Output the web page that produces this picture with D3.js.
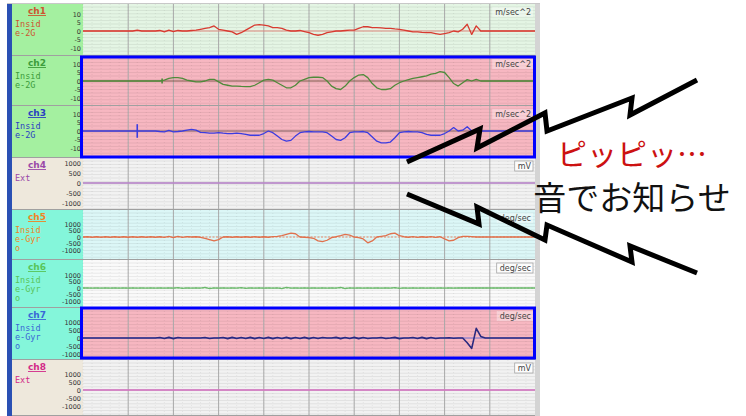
<!DOCTYPE html>
<html>
<head>
<meta charset="utf-8">
<script src="https://cdn.jsdelivr.net/npm/d3@7"></script>
<style>body{margin:0;background:#fff;overflow:hidden}</style>
</head>
<body>
<svg class="chart" width="746" height="416"></svg>
<script>
var names = ["ch1","ch2","ch3","ch4","ch5","ch6","ch7","ch8"];
var desc = [["Insid","e-2G"],["Insid","e-2G"],["Insid","e-2G"],["Ext"],
            ["Insid","e-Gyr","o"],["Insid","e-Gyr","o"],["Insid","e-Gyr","o"],["Ext"]];
var units = ["m/sec^2","m/sec^2","m/sec^2","mV","deg/sec","deg/sec","deg/sec","mV"];
var accTicks = [10,5,0,-5,-10];
var voltTicks = [1000,500,0,-500,-1000];
var gyroTicks = [1000,500,0,-500,-1000];

// samples at t = 0..100 (10 screen divisions)
var ch1 = [0,0,0,0,0,0,0,0,0,0,
  0,0,0.5,0,0,0,0,0.3,-0.5,0.5,
  -0.3,0.3,0,0,0.3,0.5,1,1.5,2,3,
  1,0.5,0,-0.5,-2,-1,0.5,2,3.5,3.8,
  3.5,3,2,2,1.5,0.5,0,0,0.3,-0.3,
  -1,-2,-2.5,-2,-1,-0.5,0,0,0.3,0.5,
  0.5,1.5,2.5,2.5,2,2,1.8,1.5,1.5,1.2,
  1,0.5,0,-0.5,-0.5,-0.8,-1,-1,-1.5,-2,
  -1.5,-1,0,-0.5,1,4,-2,3,0,0,
  0,0,0,0,0,0,0,0,0,0,0];
var ch2 = [0,0,0,0,0,0,0,0,0,0,
  0,0,0,0,0,0,0,0,0.5,1.5,
  2,2,1.5,0.5,0,-0.5,-0.5,0,1,1,
  -0.5,-2,-2.5,-3,-3,-3.2,-3.3,-3.3,-2.5,-1,
  0.5,1,0.5,-1,-2.5,-4,-4,-2.5,0,1,
  2,2.2,2.2,2,0,-3,-4.5,-5,-3,0,
  2,3.5,3.8,2,-1.5,-4,-5,-5,-4.5,-2.5,
  -1,0,0.8,1.5,2,2.5,3,4,4.5,5.5,
  5,2,-1.5,-3,-1,0.8,0,1,0,0,
  0,0,0,0,0,0,0,0,0,0,0];
var ch3 = [0,0,0,0,0,0,0,0,0,0,
  0,0,0,0,0,0,0,-0.3,-0.5,0.3,
  -0.5,-0.3,0,0.5,1,0.5,-0.8,-1,-1.3,-1.3,
  -1,-1.3,-1.5,-1.5,-1.3,-1.5,-2,-2.5,-2.5,-2.5,
  -1.5,0,-1,-3,-5,-6,-5.5,-3,-1,-0.5,
  -0.3,-0.5,-0.5,-0.5,-1,-3,-5,-5.5,-4,-1,
  -0.5,-0.5,-0.3,-1,-3.5,-6,-7,-7,-6.5,-4,
  -1,-0.5,-0.3,-0.5,-0.5,-1,-2,-2.5,-2.5,-2.5,
  -1.5,0,2,0,0.5,2.5,0,0.3,0,0,
  0,0,0,0,0,0,0,0,0,0,0];
var ch4 = [0,0];
var ch5 = [0,20,-20,20,-20,20,-20,20,-20,20,
  -20,20,-20,20,-20,20,-20,20,-30,50,
  -40,50,-30,30,0,20,-20,-100,-200,-300,
  -200,0,20,-20,20,-20,20,-20,20,-20,
  20,-20,30,50,100,200,300,250,0,-20,
  -50,-100,-300,-350,-250,-50,20,100,200,150,
  0,-50,-150,-450,-300,0,50,100,250,300,
  100,20,-20,30,-30,20,-20,30,-30,20,
  -150,-300,-250,-50,50,50,30,0,0,0,
  0,0,0,0,0,0,0,0,0,0,0];
var ch6 = [0,15,-15,15,-15,15,-15,15,-15,15,
  -15,15,-15,15,-15,15,-15,15,-15,15,
  -15,30,-30,15,-15,15,-15,40,-40,15,
  -15,15,-15,15,-15,30,-30,15,-15,15,
  -15,15,-15,15,-40,40,-15,15,-15,15,
  -15,15,-15,15,-15,15,-15,50,-50,15,
  -15,15,-15,15,-15,15,-15,15,-15,30,
  -30,15,-15,15,-15,15,-15,15,-15,15,
  -15,15,-15,15,0,0,0,0,0,0,
  0,0,0,0,0,0,0,0,0,0,0];
var ch7 = [0,0,0,0,0,0,0,0,0,0,
  0,0,0,0,0,0,0,30,-30,40,
  -40,30,0,0,0,0,0,30,-30,0,
  0,30,-40,40,-30,30,-30,40,-40,30,
  -30,40,-40,30,-30,40,-40,30,-30,40,
  -40,30,-30,30,0,0,40,-40,30,-30,
  40,-40,30,-30,0,0,30,-30,0,40,
  -40,0,0,30,-30,40,-40,30,-30,0,
  0,20,-20,0,0,-300,-650,600,100,0,
  0,0,0,0,0,0,0,0,0,0,0];
var ch8 = [0,0];
// [channel, t, half height]
var spikes = [[1,17.5,1.5],[2,12,4]];

var series = [ch1,ch2,ch3,ch4,ch5,ch6,ch7,ch8];
var tickSets = [accTicks,accTicks,accTicks,voltTicks,gyroTicks,gyroTicks,gyroTicks,voltTicks];
var maxVal = [10,10,10,1000,1000,1000,1000,1000];

// layout
var chTop = [4,56,106,158,210,260,308,360];
var zeroOff = [27,25,25,25,27,28,30,30];
var halfSpan = [17,17,17,20,13,13,16,16];
var panelBg = ["#a4f0a0","#a4f0a0","#a4f0a0","#eee8dc","#84f6da","#84f6da","#84f6da","#eee8dc"];
var plotBg = ["#e4f5e4","#f7b7c1","#f7b7c1","#f2f2f2","#dcf7f7","#fafafa","#f7b7c1","#f2f2f2"];
var labelColor = ["#cc5530","#3c9c3c","#2a40c0","#9a48a8","#f08424","#58c458","#3a66d6","#d22a88"];
var lineColor = ["#d83a30","#4f8a3a","#3c3ce0","#b88ac8","#e0704c","#6cb86c","#2a2a80","#d27ac0"];
var zeroColor = ["#e08a80","#7a5a4a","#7a5a5a","#b88ac8","#e88a6a","#8ccc8c","#7474d4","#d27ac0"];

var svg = d3.select(".chart");
var x = d3.scaleLinear().domain([0,100]).range([83,535]);
var plotL = 83, plotR = 535;

function bottomOf(i) { return i < 7 ? chTop[i+1] : 416; }

// left strip & frame
svg.append("rect").attr("x",7).attr("y",4).attr("width",5).attr("height",412).attr("fill","#2a50b4");
svg.append("rect").attr("x",7).attr("y",3).attr("width",533).attr("height",1).attr("fill","#c8c8c8");
svg.append("rect").attr("x",535).attr("y",4).attr("width",5).attr("height",412).attr("fill","#d4d4d4");

names.forEach(function(nm, i) {
  var top = chTop[i], bot = bottomOf(i);
  var z = top + zeroOff[i];
  var y = d3.scaleLinear().domain([-maxVal[i], maxVal[i]]).range([z + halfSpan[i], z - halfSpan[i]]);
  var g = svg.append("g");

  g.append("rect").attr("x",12).attr("y",top).attr("width",71).attr("height",bot-top).attr("fill",panelBg[i]);
  g.append("rect").attr("x",plotL).attr("y",top).attr("width",plotR-plotL).attr("height",bot-top).attr("fill",plotBg[i]);

  // fine horizontal grid
  g.selectAll("line.h").data(d3.range(top+3, bot-1, 3.4)).enter().append("line")
    .attr("x1",plotL).attr("x2",plotR).attr("y1",function(d){return d;}).attr("y2",function(d){return d;})
    .style("stroke","#000").style("stroke-opacity",0.07).style("stroke-width",1);
  // minor verticals
  g.selectAll("line.mv").data(d3.range(0,100,2)).enter().append("line")
    .attr("x1",function(d){return x(d);}).attr("x2",function(d){return x(d);})
    .attr("y1",top).attr("y2",bot)
    .style("stroke","#000").style("stroke-opacity",0.06).style("stroke-dasharray","1,2");
  // major verticals
  g.selectAll("line.v").data(d3.range(10,100,10)).enter().append("line")
    .attr("x1",function(d){return x(d);}).attr("x2",function(d){return x(d);})
    .attr("y1",top).attr("y2",bot)
    .style("stroke","#a8a8a8").style("stroke-width",1);

  // separator
  g.append("line").attr("x1",12).attr("x2",plotR).attr("y1",bot-0.5).attr("y2",bot-0.5)
    .style("stroke","#a0a0a0").style("stroke-width",1);

  // zero line
  g.append("line").attr("x1",plotL).attr("x2",plotR).attr("y1",y(0)).attr("y2",y(0))
    .style("stroke",zeroColor[i]).style("stroke-width",1)
    .style("stroke-dasharray", (i==4||i==5) ? "2,1.5" : null);

  // trace
  var vals = series[i];
  var line = d3.line()
    .x(function(d,k){ return x(k*100/(vals.length-1)); })
    .y(function(d){ return y(d); });
  g.append("path").datum(vals).attr("d",line)
    .style("fill","none").style("stroke",lineColor[i])
    .style("stroke-width", i==6 ? 1.6 : 1.3).style("stroke-linejoin","round");

  // y tick labels
  g.selectAll("text.tk").data(tickSets[i]).enter().append("text")
    .attr("x",81).attr("y",function(d){return y(d*maxVal[i]/Math.max.apply(null,tickSets[i])) + 2.5;})
    .attr("text-anchor","end")
    .style("font-family","DejaVu Sans").style("font-size","6.5px").style("fill","#333")
    .text(function(d){ return d; });

  // channel name
  g.append("text").attr("x",37).attr("y",top+10).attr("text-anchor","middle")
    .style("font-family","DejaVu Sans").style("font-weight","bold").style("font-size","9px")
    .style("text-decoration","underline").style("fill",labelColor[i]).text(nm);
  g.selectAll("text.ds").data(desc[i]).enter().append("text")
    .attr("x",15).attr("y",function(d,k){ return top + 23 + k*9; })
    .style("font-family","DejaVu Sans Mono").style("font-size","8.5px").style("fill",labelColor[i])
    .text(function(d){ return d; });

  // unit
  var ut = g.append("text").attr("x",531).attr("y",top+11).attr("text-anchor","end")
    .style("font-family","DejaVu Sans").style("font-size","8px").style("fill","#444").text(units[i]);
  var w = ut.node().getComputedTextLength();
  var boxed = (i==3||i==5||i==7);
  g.insert("rect","text:last-child").attr("x",531-w-3).attr("y",top+3).attr("width",w+5).attr("height",10)
    .attr("fill", boxed ? "#fcfcfc" : "#ffffff").attr("fill-opacity", boxed ? 1 : 0.35)
    .style("stroke", boxed ? "#999" : "none").style("stroke-width",0.7);
});

// vertical spike marks
spikes.forEach(function(s) {
  var i = s[0], z = chTop[i] + zeroOff[i];
  var y = d3.scaleLinear().domain([-maxVal[i], maxVal[i]]).range([z + halfSpan[i], z - halfSpan[i]]);
  svg.append("line").attr("x1",x(s[1])).attr("x2",x(s[1])).attr("y1",y(s[2])).attr("y2",y(-s[2]))
    .style("stroke",lineColor[i]).style("stroke-width",1.6);
});

// highlight boxes
svg.append("rect").attr("x",81.5).attr("y",57).attr("width",453).attr("height",100)
  .style("fill","none").style("stroke","#0000ff").style("stroke-width",3);
svg.append("rect").attr("x",81.5).attr("y",308).attr("width",453).attr("height",50)
  .style("fill","none").style("stroke","#0000ff").style("stroke-width",3);

// lightning bolts
var boltUp = [[407,162],[480,129],[477,148],[545,113],[547,131],[632,98],[630,115],[697,80]];
var boltDown = [[407,194],[479,224],[477,207],[545,240],[547,225],[632,262],[630,246],[697,273]];
var bolt = d3.line();
[boltUp, boltDown].forEach(function(b) {
  svg.append("path").attr("d",bolt(b)).style("fill","none").style("stroke","#000")
    .style("stroke-width",5).style("stroke-linejoin","miter").style("stroke-linecap","butt");
});

svg.append("text").attr("x",632).attr("y",165).attr("text-anchor","middle")
  .style("font-family","Noto Sans CJK JP").style("font-size","30px").style("fill","#cc1111")
  .text("ピッピッ…");
svg.append("text").attr("x",632).attr("y",210).attr("text-anchor","middle")
  .style("font-family","Noto Sans CJK JP").style("font-size","33px").style("fill","#111")
  .text("音でお知らせ");
</script>
</body>
</html>
